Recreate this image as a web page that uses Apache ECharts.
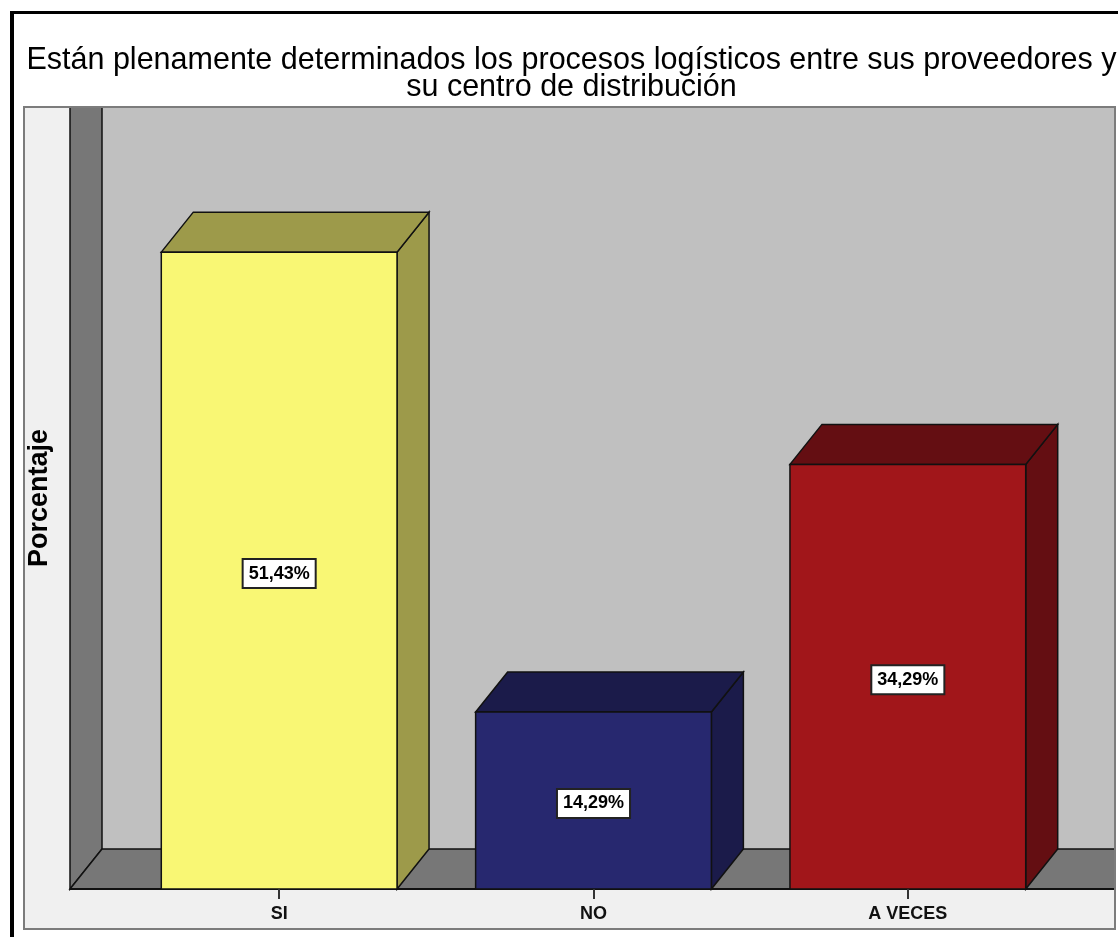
<!DOCTYPE html>
<html>
<head>
<meta charset="utf-8">
<script src="https://cdn.jsdelivr.net/npm/echarts@6/dist/echarts.min.js"></script>
<style>
  html, body { margin: 0; padding: 0; background: #fff; }
  #chart { width: 1118px; height: 937px; }
</style>
</head>
<body>
<div id="chart"></div>
<script>
// Chart data
const titleText = 'Están plenamente determinados los procesos logísticos entre sus proveedores y\nsu centro de distribución';
const yAxisTitle = 'Porcentaje';
const categories = ['SI', 'NO', 'A VECES'];
const percentages = [51.43, 14.29, 34.29];

// Bar colours: front face, and shaded top / side faces
const frontColors = ['#f9f774', '#27286f', '#a1161a'];
const shadeColors = ['#9d9a4a', '#1b1b4a', '#640e12'];

// Layout of the plot (front plane) and the 3D depth offset
const GRID = { left: 122, top: 146, width: 943, height: 743 };
const DEPTH_X = 32;
const DEPTH_Y = 40;
const WALL_X = 70;               // front edge of the left wall
const PANEL = { x: 24, y: 107, right: 1115, bottom: 929 };
const FONT = '"Liberation Sans", Arial, sans-serif';

const baseY = GRID.top + GRID.height;      // value 0 on the front plane
const backY = baseY - DEPTH_Y;              // floor meets back wall
const backX = WALL_X + DEPTH_X;             // left wall meets back wall

function fmtPct(v) {
  return v.toFixed(2).replace('.', ',') + '%';
}

const edge = { stroke: '#111', lineWidth: 1.5 };

const backdrop = [
  // outer black frame (top and left edges)
  { type: 'rect', z: 0, shape: { x: 10, y: 11, width: 1108, height: 3 }, style: { fill: '#000' } },
  { type: 'rect', z: 0, shape: { x: 10, y: 11, width: 4, height: 926 }, style: { fill: '#000' } },
  // light panel behind the plot
  { type: 'rect', z: 0,
    shape: { x: PANEL.x, y: PANEL.y, width: PANEL.right - PANEL.x, height: PANEL.bottom - PANEL.y },
    style: { fill: '#f0f0f0', stroke: '#7c7c7c', lineWidth: 2 } },
  // back wall
  { type: 'rect', z: 0,
    shape: { x: backX, y: PANEL.y, width: PANEL.right - backX, height: backY - PANEL.y },
    style: { fill: '#c0c0c0' } },
  // left wall
  { type: 'polygon', z: 0,
    shape: { points: [[WALL_X, PANEL.y], [backX, PANEL.y], [backX, backY], [WALL_X, baseY]] },
    style: Object.assign({ fill: '#777777' }, edge) },
  // floor
  { type: 'polygon', z: 0,
    shape: { points: [[WALL_X, baseY], [backX, backY], [PANEL.right, backY], [PANEL.right, baseY]] },
    style: Object.assign({ fill: '#777777' }, edge) },
  // front edge of the floor (x axis line)
  { type: 'line', z: 0, shape: { x1: WALL_X, y1: baseY, x2: PANEL.right, y2: baseY },
    style: { stroke: '#111', lineWidth: 2 } },
  // panel border redrawn on top of walls
  { type: 'rect', z: 0,
    shape: { x: PANEL.x, y: PANEL.y, width: PANEL.right - PANEL.x, height: PANEL.bottom - PANEL.y },
    style: { fill: null, stroke: '#7c7c7c', lineWidth: 2 } },
  // y axis title
  { type: 'text', z: 1, x: 40, y: 498, rotation: Math.PI / 2,
    style: { text: yAxisTitle, font: 'bold 27px ' + FONT, fill: '#000',
             textAlign: 'center', textVerticalAlign: 'middle' } }
];

function renderBar(params, api) {
  const idx = api.value(0);
  const val = api.value(1);
  const top = api.coord([idx, val]);
  const base = api.coord([idx, 0]);
  const w = api.size([1, 0])[0] * 0.75;
  const x0 = top[0] - w / 2;
  const x1 = top[0] + w / 2;
  const yT = top[1];
  const yB = base[1];
  const i = params.dataIndex;
  return {
    type: 'group',
    children: [
      { type: 'polygon',
        shape: { points: [[x1, yT], [x1 + DEPTH_X, yT - DEPTH_Y], [x1 + DEPTH_X, yB - DEPTH_Y], [x1, yB]] },
        style: Object.assign({ fill: shadeColors[i] }, edge) },
      { type: 'polygon',
        shape: { points: [[x0, yT], [x0 + DEPTH_X, yT - DEPTH_Y], [x1 + DEPTH_X, yT - DEPTH_Y], [x1, yT]] },
        style: Object.assign({ fill: shadeColors[i] }, edge) },
      { type: 'rect',
        shape: { x: x0, y: yT, width: w, height: yB - yT },
        style: Object.assign({ fill: frontColors[i] }, edge) },
      { type: 'text',
        style: {
          text: fmtPct(val), x: top[0], y: (yT + yB) / 2 + 3,
          align: 'center', verticalAlign: 'middle',
          font: 'bold 18px ' + FONT, fill: '#000',
          backgroundColor: '#fff', borderColor: '#222', borderWidth: 2,
          padding: [5, 5, 4, 5]
        } }
    ]
  };
}

const chart = echarts.init(document.getElementById('chart'), null, { renderer: 'canvas' });
chart.setOption({
  backgroundColor: '#ffffff',
  animation: false,
  title: {
    text: titleText,
    left: 571.5,
    top: 47,
    padding: 0,
    textAlign: 'center',
    textStyle: { fontFamily: FONT, fontSize: 30.5, fontWeight: 'normal', color: '#000', lineHeight: 27 }
  },
  graphic: { elements: backdrop },
  grid: { left: GRID.left, top: GRID.top, width: GRID.width, height: GRID.height, containLabel: false },
  xAxis: {
    type: 'category',
    data: categories,
    z: 5,
    axisLine: { show: false },
    axisTick: { show: true, alignWithLabel: true, length: 10, lineStyle: { color: '#333', width: 2 } },
    axisLabel: { margin: 16, fontFamily: FONT, fontSize: 18, fontWeight: 'bold', color: '#111' },
    splitLine: { show: false }
  },
  yAxis: { type: 'value', min: 0, max: 60, show: false },
  series: [{
    type: 'custom',
    renderItem: renderBar,
    data: percentages.map((v, i) => [i, v]),
    encode: { x: 0, y: 1 },
    clip: false
  }]
});
</script>
</body>
</html>
